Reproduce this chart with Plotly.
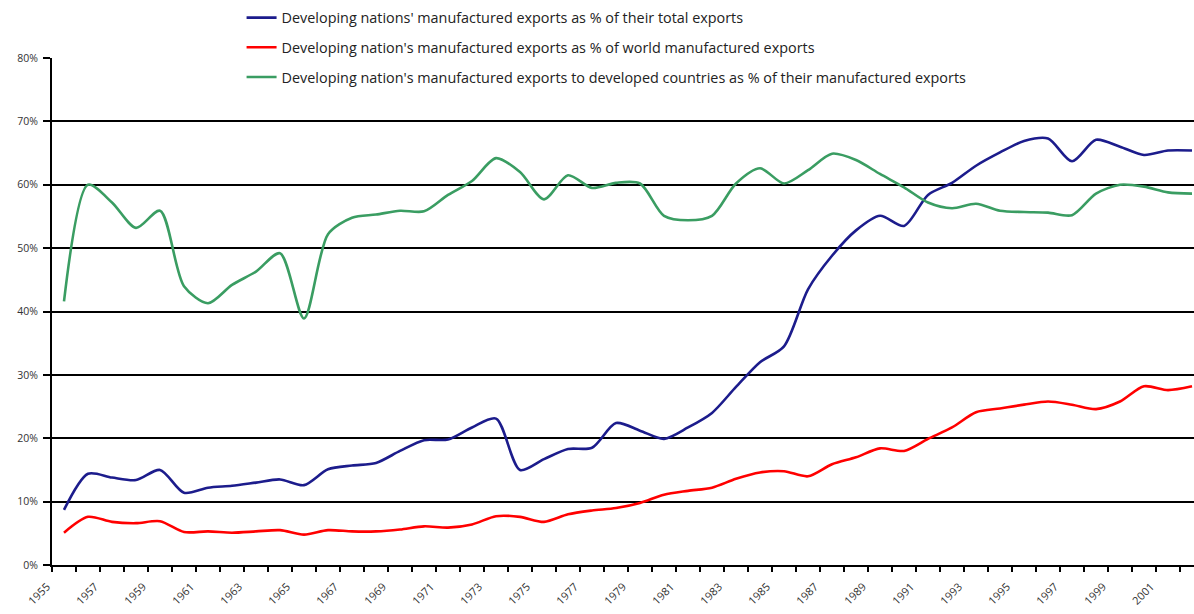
import plotly.graph_objects as go

years = list(range(1955, 2003))

share_total = [8.7, 14.4, 13.8, 13.4, 15.0, 11.4, 12.2, 12.5, 13.0, 13.5,
               12.6, 15.1, 15.7, 16.1, 18.0, 19.7, 19.8, 21.7, 23.1, 15.0,
               16.7, 18.3, 18.5, 22.4, 21.2, 19.9, 21.7, 24.0, 28.1, 32.0,
               34.5, 43.5, 48.8, 52.8, 55.1, 53.5, 58.4, 60.3, 63.0, 65.1,
               66.9, 67.3, 63.7, 67.1, 66.0, 64.7, 65.4, 65.4]

share_world = [5.1, 7.6, 6.8, 6.6, 6.9, 5.2, 5.3, 5.1, 5.3, 5.5,
               4.8, 5.5, 5.3, 5.3, 5.6, 6.1, 5.9, 6.4, 7.7, 7.6,
               6.8, 8.0, 8.6, 9.0, 9.8, 11.1, 11.7, 12.2, 13.6, 14.6,
               14.8, 14.0, 15.9, 17.0, 18.4, 18.0, 19.9, 21.7, 24.1, 24.7,
               25.3, 25.8, 25.3, 24.6, 25.8, 28.2, 27.6, 28.2]

share_developed = [41.6, 60.0, 57.2, 53.2, 55.9, 44.0, 41.3, 44.2, 46.3, 49.2,
                   38.9, 52.2, 54.8, 55.3, 55.9, 55.8, 58.4, 60.6, 64.2, 62.0,
                   57.7, 61.5, 59.5, 60.3, 60.2, 55.1, 54.4, 55.1, 60.2, 62.6,
                   60.2, 62.3, 64.9, 63.9, 61.7, 59.6, 57.2, 56.3, 57.0, 55.9,
                   55.7, 55.6, 55.2, 58.6, 60.0, 59.7, 58.8, 58.6]

series_names = [
    "Developing nations' manufactured exports as % of their total exports",
    "Developing nation's manufactured exports as % of world manufactured exports",
    "Developing nation's manufactured exports to developed countries as % of their manufactured exports",
]
series_colors = ["#1c1c8c", "#ff0000", "#3a9d62"]

label_years = [y for y in years if (y - 1955) % 2 == 0 and y <= 2001]
label_text = [str(y) for y in label_years]
boundaries = [y - 0.5 for y in years]

fig = go.Figure()
for i, (vals, name, col) in enumerate(zip([share_total, share_world, share_developed], series_names, series_colors)):
    fig.add_trace(go.Scatter(
        x=years, y=vals, mode="lines", name=name,
        line=dict(color=col, width=2.6, shape="spline", smoothing=0.8),
        legendgroup=f"g{i}",
    ))

font_family = "Open Sans, Lato, sans-serif"

fig.update_layout(
    width=1194, height=614,
    margin=dict(l=52, r=0, t=58, b=49),
    paper_bgcolor="white", plot_bgcolor="white",
    showlegend=True,
    legend=dict(
        x=0.166, y=1.111, xanchor="left", yanchor="top",
        traceorder="grouped", tracegroupgap=8,
        font=dict(family=font_family, size=14.4, color="#222"),
        bgcolor="rgba(0,0,0,0)",
    ),
    xaxis=dict(
        range=[1954.5, 2002.083],
        tickmode="array", tickvals=label_years, ticktext=label_text,
        tickangle=-45, ticks="", ticklabelshift=-17, ticklabelstandoff=9,
        tickfont=dict(family=font_family, size=11, color="#333"),
        showgrid=False, zeroline=False,
        showline=True, linecolor="black", linewidth=2,
        minor=dict(tickmode="array", tickvals=boundaries, ticks="outside",
                   ticklen=5, tickwidth=2, tickcolor="black", showgrid=False),
    ),
    yaxis=dict(
        range=[0, 80], tickmode="linear", tick0=0, dtick=10,
        ticksuffix="%", ticks="outside", ticklen=7, tickwidth=2, tickcolor="black",
        ticklabelstandoff=3,
        tickfont=dict(family=font_family, size=10.5, color="#333"),
        showgrid=True, gridcolor="black", gridwidth=2,
        zeroline=False, showline=True, linecolor="black", linewidth=2,
    ),
)

fig.write_html(
    "out.html",
    config={"displayModeBar": False},
    post_script="document.body.style.margin='0';document.body.style.overflow='hidden';",
)
